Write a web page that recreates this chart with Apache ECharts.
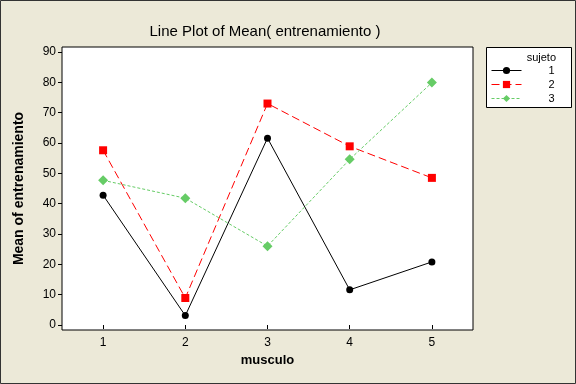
<!DOCTYPE html>
<html><head><meta charset="utf-8">
<script src="https://cdn.jsdelivr.net/npm/echarts@6/dist/echarts.min.js"></script>
<style>html,body{margin:0;padding:0;background:#ECE9D8}#c{width:576px;height:384px}</style>
</head><body><div id="c"></div>
<script>
const categories = [1, 2, 3, 4, 5];
const yTicks = [0, 10, 20, 30, 40, 50, 60, 70, 80, 90];
const sujeto1 = [42.8, 3.1, 61.6, 11.6, 20.8];
const sujeto2 = [57.6, 8.9, 73.0, 58.9, 48.5];
const sujeto3 = [47.7, 41.8, 26.0, 54.6, 79.9];
const seriesNames = ['1', '2', '3'];

const FONT = '"Liberation Sans", Arial, sans-serif';
const pairs = arr => categories.map((c, i) => [c, arr[i]]);

const chart = echarts.init(document.getElementById('c'), null, {renderer: 'canvas'});
chart.setOption({
  backgroundColor: '#ECE9D8',
  animation: false,
  textStyle: {fontFamily: FONT},
  title: {
    text: 'Line Plot of Mean( entrenamiento )',
    left: 260, top: 19, textAlign: 'center',
    textStyle: {fontFamily: FONT, fontSize: 15, fontWeight: 'normal', color: '#000'}
  },
  grid: {
    left: 62, top: 47, right: 103, bottom: 54,
    show: true, backgroundColor: '#fff', borderColor: '#000', borderWidth: 1
  },
  xAxis: {
    type: 'value', min: 0.5, max: 5.5,
    name: 'musculo', nameLocation: 'middle', nameGap: 24,
    nameTextStyle: {fontFamily: FONT, fontSize: 13, fontWeight: 'bold', color: '#000'},
    axisLine: {show: false},
    splitLine: {show: false},
    axisTick: {show: true, length: 4, lineStyle: {color: '#000'}, customValues: categories},
    axisLabel: {color: '#000', fontSize: 12, margin: 7, customValues: categories}
  },
  yAxis: {
    type: 'value', min: -1.64, max: 91.64,
    name: 'Mean of entrenamiento', nameLocation: 'middle', nameGap: 36,
    nameTextStyle: {fontFamily: FONT, fontSize: 14, fontWeight: 'bold', color: '#000'},
    axisLine: {show: false},
    splitLine: {show: false},
    axisTick: {show: true, length: 4, lineStyle: {color: '#000'}, customValues: yTicks},
    axisLabel: {color: '#000', fontSize: 12, margin: 6, customValues: yTicks}
  },
  legend: {
    orient: 'vertical', left: 491, top: 65,
    itemWidth: 30, itemHeight: 9, itemGap: 3,
    padding: 0,
    data: seriesNames,
    lineStyle: {width: 1},
    formatter: name => '{a|' + name + '}',
    textStyle: {
      fontFamily: FONT, fontSize: 11, color: '#000',
      rich: {a: {width: 28, align: 'right', fontFamily: FONT, fontSize: 11, color: '#000', lineHeight: 11}}
    }
  },
  graphic: [
    {type: 'rect', z: -1, shape: {x: 486.5, y: 47.5, width: 85, height: 60},
     style: {fill: '#fff', stroke: '#000', lineWidth: 1}},
    {type: 'text', x: 556, y: 52, style: {text: 'sujeto', fontFamily: FONT, fontSize: 11, fill: '#000', textAlign: 'right'}},
    {type: 'rect', z: 100, shape: {x: 0.5, y: 0.5, width: 575, height: 383},
     style: {fill: 'none', stroke: '#333', lineWidth: 1}}
  ],
  series: [
    {name: seriesNames[0], type: 'line', data: pairs(sujeto1),
     symbol: 'circle', symbolSize: 7,
     lineStyle: {color: '#000', width: 1, type: 'solid'},
     itemStyle: {color: '#000'}},
    {name: seriesNames[1], type: 'line', data: pairs(sujeto2),
     symbol: 'rect', symbolSize: 8,
     lineStyle: {color: '#FF0000', width: 1, type: [8, 4]},
     itemStyle: {color: '#FF0000'}},
    {name: seriesNames[2], type: 'line', data: pairs(sujeto3),
     symbol: 'diamond', symbolSize: 10,
     lineStyle: {color: '#66CC66', width: 1, type: [3, 2]},
     itemStyle: {color: '#66CC66'}}
  ]
});
</script></body></html>
